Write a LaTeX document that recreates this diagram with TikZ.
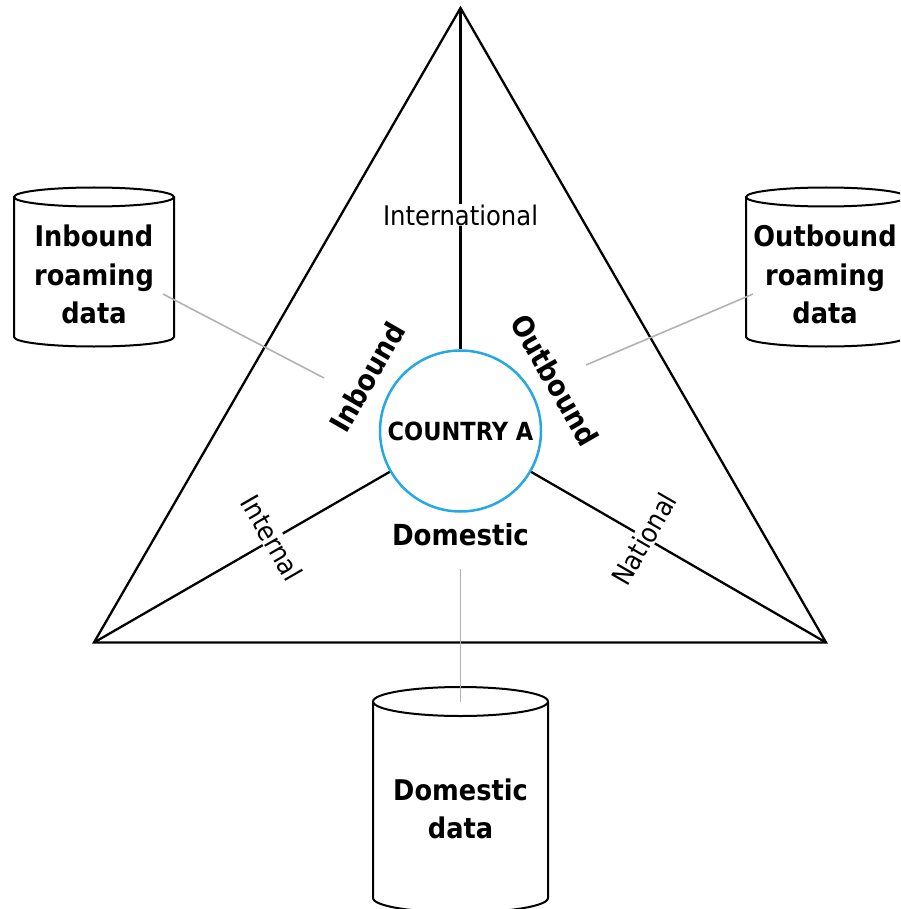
\documentclass[tikz,border=0pt]{standalone}
\usepackage{fontspec}
\IfFontExistsTF{DejaVu Sans Condensed}{\setmainfont{DejaVu Sans Condensed}}{\setmainfont{DejaVu Sans}}
\definecolor{ringblue}{RGB}{38,168,226}
\definecolor{linkgray}{RGB}{178,178,178}

% a data store drawn as an upright cylinder: centre x, top y, bottom y, x radius, y radius
\newcommand\datadrum[5]{%
  \draw[drum,fill=white] ({#1-#4},#2) -- ({#1-#4},#3)
    arc[start angle=180,end angle=360,x radius=#4pt,y radius=#5pt] -- ({#1+#4},#2);
  \draw[drum] (#1,#2) ellipse[x radius=#4pt,y radius=#5pt];}

\tikzset{
  edge/.style={line width=2.3pt,black},
  ring/.style={circle,draw=ringblue,line width=2.5pt,minimum size=161pt,inner sep=0pt,fill=white},
  link/.style={draw=linkgray,line width=1.6pt},
  drum/.style={line width=2pt,black},
  flowlabel/.style={fill=white,inner sep=1pt,font=\fontsize{27}{30}\selectfont},
  sidelabel/.style={inner sep=0pt,font=\bfseries\fontsize{29}{30}\selectfont},
  storetext/.style={align=center,inner sep=0pt,font=\bfseries\fontsize{28.5}{38.5}\selectfont},
}

\begin{document}
\begin{tikzpicture}[x=1pt,y=-1pt]
\useasboundingbox (0,0) rectangle (900,909);
\clip (0,0) rectangle (900,909);

% data stores
\datadrum{94}{197}{337}{80}{9.5}
\datadrum{826}{197}{337}{80}{9.5}
\datadrum{460.5}{701.5}{898}{87.5}{14.5}
\node[storetext] (inroam) at (94,274.5) {Inbound\\roaming\\data};
\node[storetext] (outroam) at (825,274.5) {Outbound\\roaming\\data};
\node[storetext] (domdata) at (460.5,809) {Domestic\\data};

% triangle of traffic flows
\coordinate (apex) at (460.5,8);
\coordinate (bl) at (94,642.5);
\coordinate (br) at (826,642.5);
\draw[edge,line join=miter] (apex) -- (bl) -- (br) -- cycle;

\node[ring] (ring) at (460.5,431) {};
\draw[edge] (apex) -- (ring);
\draw[edge] (bl) -- (ring);
\draw[edge] (br) -- (ring);
\node[font=\bfseries\fontsize{25}{28}\selectfont,inner sep=0pt] (country) at (ring.center) {COUNTRY A};

% flow labels
\node[flowlabel] (intl) at (460.5,215) {International};
\node[flowlabel,rotate=-60] (internal) at (272,538) {Internal};
\node[flowlabel,rotate=60] (national) at (644,539) {National};

% sector labels
\node[sidelabel,rotate=60] (inbound) at (367,377) {Inbound};
\node[sidelabel,rotate=-60] (outbound) at (555,380) {Outbound};
\node[sidelabel,anchor=base] (domestic) at (460.5,545) {Domestic};

% links from sectors to stores
\coordinate (inA) at (163,294);
\coordinate (inB) at (324,378);
\coordinate (outA) at (753,294);
\coordinate (outB) at (586,365);
\coordinate (domA) at (460.5,569);
\coordinate (domB) at (460.5,702);
\draw[link] (inA) -- (inB);
\draw[link] (outA) -- (outB);
\draw[link] (domA) -- (domB);
\end{tikzpicture}
\end{document}
